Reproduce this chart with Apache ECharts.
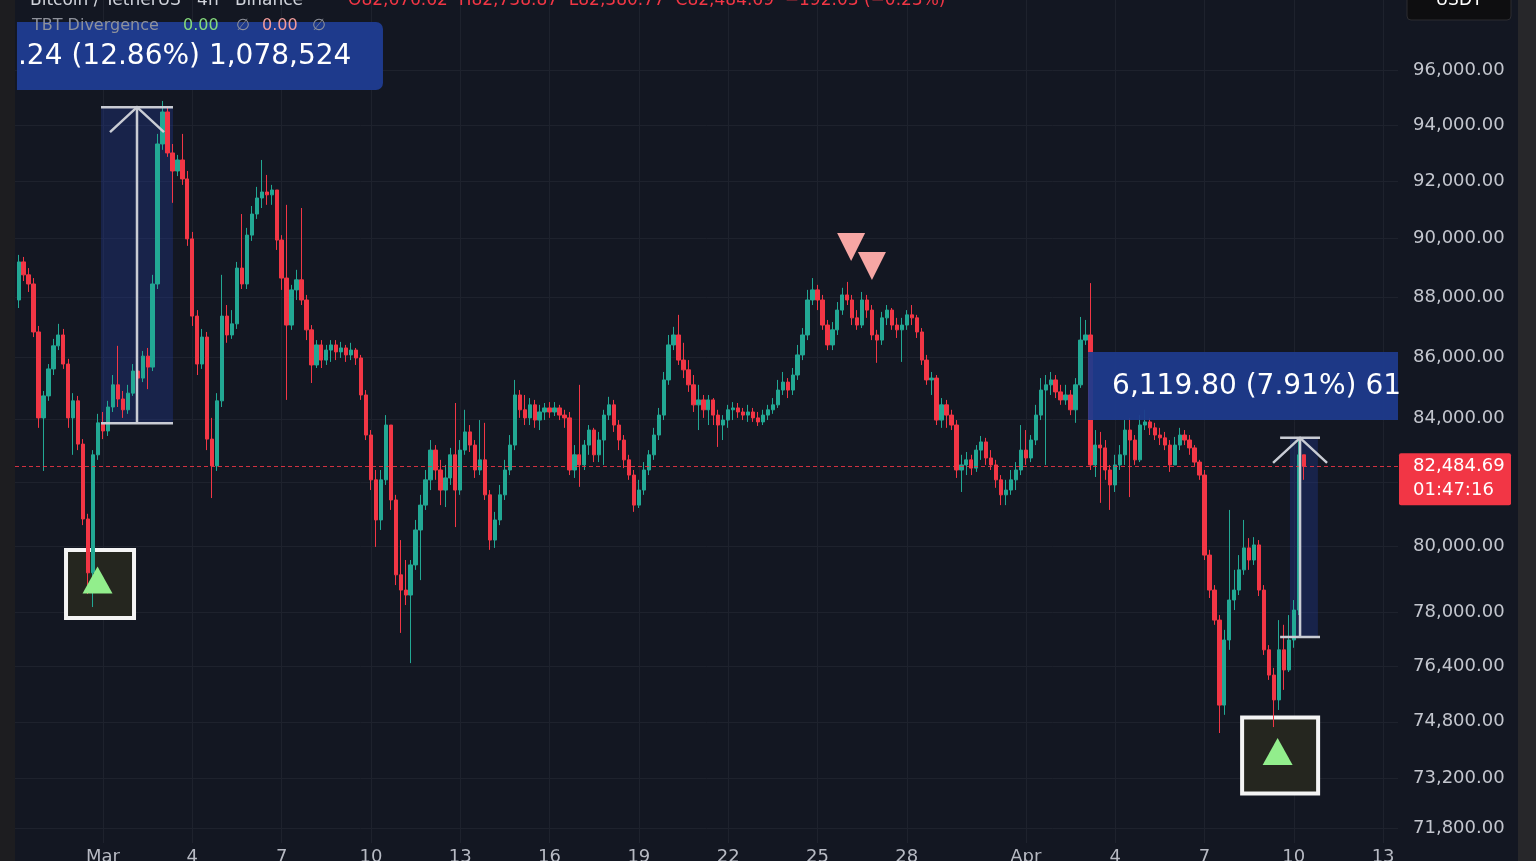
<!DOCTYPE html>
<html>
<head>
<meta charset="utf-8">
<script src="https://cdn.jsdelivr.net/npm/echarts@6/dist/echarts.min.js"></script>
<style>
html,body{margin:0;padding:0;background:#131722;}
#c{width:1536px;height:861px;}
</style>
</head>
<body>
<div id="c"></div>
<script>
// ---------- DATA ----------
const MAR1 = Date.UTC(2025, 2, 1);
const DAY = 86400000;
const FOUR_H = 4 * 3600000;
const candleStart = Date.UTC(2025, 1, 26, 4); // first 4h candle
const firstOpen = 87910;

const candleCloses = [
89200,88760,88450,86840,84030,84740,85620,86380,86740,85780,
84030,84580,83190,80840,79190,82850,83870,83610,84380,85100,
84640,84290,84830,85550,85320,86040,85680,88450,93320,94470,
93000,92360,92750,92080,89990,87370,85780,86670,83350,82500,
84580,87370,86740,87110,88990,88450,90120,90850,91410,91620,
91520,91690,89950,88650,87070,88250,88590,87910,86910,85750,
86410,85910,86240,86410,86180,86310,86080,86240,85980,84770,
83480,82060,80810,82060,83800,81430,79130,78670,78520,79430,
80500,81270,82060,83000,82370,81740,82120,82850,81740,83000,
83580,83160,82370,82690,81590,80190,80810,81590,82370,83160,
84770,84290,84030,84450,83960,84220,84350,84220,84350,84120,
84030,82370,82850,82530,83160,83640,82850,83320,84120,84450,
83800,83320,82690,82210,81270,81740,82370,82850,83480,84120,
85260,86410,86740,85910,85590,85100,84450,84610,84290,84610,
84120,83800,83960,84290,84350,84220,84120,84220,84030,83900,
84120,84290,84450,84930,85190,84930,85420,86080,86740,87910,
88250,87910,87070,86410,86910,87570,88080,87910,87310,87070,
87910,87570,86740,86570,87310,87570,87070,86910,87070,87410,
87310,86840,85910,85260,85320,83960,84450,84120,83800,82370,
82530,82690,82430,83000,83260,82750,82530,82060,81590,81740,
82060,82370,83000,82750,83320,84120,84930,85100,85260,84870,
84610,84770,84290,85100,86570,86740,82530,83160,83070,82370,
81900,82530,82850,83640,83320,82690,83800,83900,83710,83480,
83390,83160,82530,83160,83480,83320,83070,82620,82210,79730,
78670,77770,75280,77180,78370,78670,79280,79950,79580,80040,
78670,76890,76150,75430,76890,76300,77180,78070,82850,82484.69
];

const candleHighs = [
89440,89370,88990,88650,87040,84900,85780,86610,87110,86940,
85950,84830,84740,83350,81000,83000,84160,84220,84580,85420,
86380,84900,85100,85780,86380,86210,86310,88760,93680,94870,
94650,93320,92930,93680,92360,90230,87570,86940,86840,84030,
84830,88760,87740,87570,89200,90850,90370,91130,91800,92750,
92220,91870,91620,90120,91170,88420,88930,91060,88080,87070,
86570,86570,86410,86570,86570,86510,86410,86480,86310,86080,
84930,83640,82370,82370,84120,83800,81590,80190,79580,79580,
80810,81590,82370,83320,83160,82690,82530,83070,84510,83320,
84290,83800,83320,83960,83870,81740,81060,81900,82690,83480,
85260,84930,84770,84670,84610,84450,84510,84540,84540,84450,
84290,84220,83160,85100,83320,83800,83710,83580,84290,84710,
84610,83960,83480,82850,82370,82060,82620,83000,83710,84350,
85520,86740,87010,87410,86480,85910,85420,85100,84770,84770,
84670,84290,84120,84450,84540,84510,84350,84450,84350,84220,
84290,84450,84670,85260,85520,85320,85650,86410,86970,88250,
88650,88420,88080,87240,87170,87840,88320,88520,88080,87570,
88180,88080,87740,86910,87510,87740,87640,87310,87310,87570,
87740,87410,86970,86080,85520,85420,84670,84610,84290,83960,
82850,82940,82850,83160,83450,83390,83000,82690,82210,82060,
82370,82620,83800,83640,83480,84450,85320,85420,85520,85420,
85100,85100,84930,85320,87340,87240,88480,83640,83580,83320,
82530,82850,83160,83960,84030,83480,84120,84290,84030,83870,
83710,83580,83320,83420,83710,83640,83480,83160,82690,82370,
79890,78820,77920,77480,81120,79280,79730,80810,80250,80280,
80190,78820,77030,76360,77770,77630,77920,78370,83320,82850
];

const candleLows = [
87640,88550,88180,86670,83710,82340,84580,85420,86240,85620,
83710,82850,83000,80650,78550,78160,82690,83350,83450,84220,
84380,84030,84160,84740,85190,85190,84960,85550,88280,93110,
92860,91240,92180,91870,89750,87040,85420,85620,83000,81490,
82340,84380,86480,86610,86940,88280,88280,89920,90680,91060,
91170,91170,89610,88250,84610,86910,87910,87740,86570,85160,
85650,85650,85750,85850,85910,85980,85850,85910,85750,84610,
83320,81740,79980,80500,81900,81120,78820,77390,78220,76500,
79280,78970,81120,81740,82060,81270,81210,81900,80590,81590,
82850,82940,82120,82210,81430,79890,79950,80650,81430,82210,
83000,84030,83800,83800,83710,83640,83960,84030,84090,83960,
83710,82210,82120,81840,82370,82850,82620,82620,82530,83960,
83580,83000,82430,82060,81060,81180,81590,82210,82690,83320,
83960,85100,86240,85750,85320,84870,84220,83640,84030,83800,
83800,83100,83320,83710,83960,84030,83960,83900,83900,83770,
83800,83960,84160,84350,84770,84670,84770,85260,85910,86570,
87740,87570,86910,86240,86240,86740,87410,87740,87070,86910,
86970,87310,86570,85820,86410,87070,86910,86640,85850,86910,
87070,86640,85750,85100,84770,83800,83710,83710,83640,82120,
81680,82210,82210,82310,82690,82530,82370,81810,81270,81270,
81590,81740,82210,82530,82620,83160,83960,82530,84770,84670,
84450,84450,84120,83870,85000,86410,82370,82150,81340,82060,
81120,81680,82370,82530,81520,82530,82620,83640,83480,83320,
83160,83000,82310,82530,83000,83160,82850,82500,82060,79580,
78430,77630,74480,75000,76890,78070,78520,79130,79280,79430,
78490,76740,76010,74650,75140,75720,76240,76950,77920,82060
];

// axis ticks
const yTickValues = [71800, 73200, 74800, 76400, 78000, 80000, 82000, 84000, 86000, 88000, 90000, 92000, 94000, 96000];
const xTickDays = [0, 3, 6, 9, 12, 15, 18, 21, 24, 27, 31, 34, 37, 40, 43];
const xTickLabels = ['Mar', '4', '7', '10', '13', '16', '19', '22', '25', '28', 'Apr', '4', '7', '10', '13'];

// visible range (days from Mar 1, price)
const xRangeDays = [-2.956, 43.5];
const yRange = [71409, 98608];

// annotations (days from Mar 1, prices)
const measure1 = [-0.067, 2.351, -0.067, 2.351, 83860, 94644.24];  // lineFrom, lineTo, shadeFrom, shadeTo, low, high
const measure2 = [39.54, 40.88, 39.87, 40.81, 77270, 83389.8];
const label1 = [-2.89, 9.405, 97780, 95268, '.24 (12.86%) 1,078,524'];
const label2 = [33.09, 43.5, 86177, 83963, '6,119.80 (7.91%) 61'];
const buySignals = [[-0.10, 78853], [39.54, 73842]];
const sellSignals = [[25.13, 89711], [25.83, 89060]];
const lastPrice = 82484.69;
const countdown = '01:47:16';

// ---------- BUILD ----------
const candleData = candleCloses.map((c, i) => {
  const o = i === 0 ? firstOpen : candleCloses[i - 1];
  const h = Math.max(candleHighs[i], o, c);
  const l = Math.min(candleLows[i], o, c);
  return [candleStart + i * FOUR_H, o, c, l, h];
});
const xTickValues = xTickDays.map(d => MAR1 + d * DAY);
const FONT = '"DejaVu Sans", sans-serif';
const UP = '#22a894', DOWN = '#f23645';
const fmtPrice = v => Number(v).toLocaleString('en-US', {minimumFractionDigits: 2, maximumFractionDigits: 2});

const chart = echarts.init(document.getElementById('c'), null, {renderer: 'canvas'});
chart.setOption({
  backgroundColor: '#131722',
  animation: false,
  grid: {left: 15, right: 138, top: 0, bottom: 18, containLabel: false, outerBoundsMode: 'none'},
  xAxis: {
    type: 'value',
    min: MAR1 + xRangeDays[0] * DAY,
    max: MAR1 + xRangeDays[1] * DAY,
    axisLine: {show: false},
    axisTick: {show: false, customValues: xTickValues},
    axisLabel: {
      customValues: xTickValues,
      color: '#b7bac3', fontSize: 18, fontFamily: FONT, margin: 5,
      formatter: v => {
        let best = 0, bd = Infinity;
        xTickValues.forEach((t, k) => { const d = Math.abs(t - v); if (d < bd) { bd = d; best = k; } });
        return xTickLabels[best];
      }
    },
    splitLine: {show: true, lineStyle: {color: '#1e222d', width: 1}}
  },
  yAxis: {
    type: 'log', logBase: 10,
    min: yRange[0], max: yRange[1],
    position: 'right',
    axisLine: {show: false},
    axisTick: {show: false, customValues: yTickValues},
    axisLabel: {customValues: yTickValues, color: '#c3c6ce', fontSize: 18, fontFamily: FONT, margin: 15, formatter: v => fmtPrice(v)},
    splitLine: {show: true, lineStyle: {color: '#1e222d', width: 1}}
  },
  series: [{
    type: 'candlestick',
    data: candleData,
    barWidth: 3.8,
    itemStyle: {color: UP, color0: DOWN, borderColor: UP, borderColor0: DOWN, borderWidth: 1},
    markLine: {
      silent: true, symbol: 'none', animation: false,
      label: {show: false},
      lineStyle: {color: '#f23645', type: [4, 3], width: 1, opacity: 0.85},
      data: [{yAxis: lastPrice}]
    }
  }]
});

const P = (d, p) => chart.convertToPixel({gridIndex: 0}, [MAR1 + d * DAY, p]);
const G = [];
const LINE = '#c9ccd4';

function measure(m) {
  const a = P(m[0], m[5]), b = P(m[1], m[4]);
  const s1 = P(m[2], m[5]), s2 = P(m[3], m[4]);
  const cx = (a[0] + b[0]) / 2;
  G.push({type: 'rect', z: 1, shape: {x: s1[0], y: s1[1], width: s2[0] - s1[0], height: s2[1] - s1[1]}, style: {fill: 'rgba(36,62,170,0.30)'}});
  const st = {stroke: LINE, lineWidth: 2.5, fill: null};
  G.push({type: 'polyline', z: 5, shape: {points: [[a[0], a[1]], [b[0], a[1]]]}, style: st});
  G.push({type: 'polyline', z: 5, shape: {points: [[a[0], b[1]], [b[0], b[1]]]}, style: st});
  G.push({type: 'polyline', z: 5, shape: {points: [[cx, a[1]], [cx, b[1]]]}, style: st});
  G.push({type: 'polyline', z: 5, shape: {points: [[cx - 27, a[1] + 25], [cx, a[1]], [cx + 27, a[1] + 25]]}, style: st});
}
measure(measure1);
measure(measure2);

// buy signal boxes
buySignals.forEach((s, k) => {
  const c = P(s[0], s[1]);
  const size = k === 0 ? 68 : 76;
  G.push({type: 'rect', z: 1, shape: {x: c[0] - size / 2, y: c[1] - size / 2, width: size, height: size}, style: {fill: '#25261f', stroke: '#f4f4f4', lineWidth: 4}});
  const tx = c[0] - 2.5, ty = c[1] - 4, w = 30, h = 27;
  G.push({type: 'polygon', z: 6, shape: {points: [[tx, ty - h / 2], [tx + w / 2, ty + h / 2], [tx - w / 2, ty + h / 2]]}, style: {fill: '#92ee8c'}});
});
// sell signal triangles
sellSignals.forEach(s => {
  const c = P(s[0], s[1]);
  const w = 28, h = 28;
  G.push({type: 'polygon', z: 6, shape: {points: [[c[0] - w / 2, c[1] - h / 2], [c[0] + w / 2, c[1] - h / 2], [c[0], c[1] + h / 2]]}, style: {fill: '#f6a6a4'}});
});

// measurement labels
function mlabel(L, dx, radius, fill) {
  const a = P(L[0], L[2]), b = P(L[1], L[3]);
  G.push({type: 'rect', z: 7, shape: {x: a[0], y: a[1], width: b[0] - a[0], height: b[1] - a[1], r: radius}, style: {fill: fill}});
  G.push({type: 'text', z: 8, x: a[0] + dx, y: (a[1] + b[1]) / 2 + 1, style: {text: L[4], fill: '#ffffff', font: '28px ' + FONT, textAlign: 'left', textVerticalAlign: 'middle', align: 'left', verticalAlign: 'middle'}});
}
mlabel(label1, 1, [0, 7, 7, 0], '#1e3a8c');
mlabel(label2, 24, 0, 'rgba(30,58,140,0.94)');

// indicator legend
const tbt = [['TBT Divergence', 32, '#8e919b'], ['0.00', 183, '#84d97c'], ['\u2205', 236, '#8e919b'], ['0.00', 262, '#f29b9b'], ['\u2205', 312, '#8e919b']];
tbt.forEach(t => G.push({type: 'text', z: 9, x: t[1], y: 26, style: {text: t[0], fill: t[2], font: '16px ' + FONT, textAlign: 'left', textVerticalAlign: 'middle', align: 'left', verticalAlign: 'middle'}}));

// header (cut off at top)
G.push({type: 'text', z: 9, x: 30, y: 9, style: {text: 'Bitcoin / TetherUS \u00b7 4h \u00b7 Binance', fill: '#d1d4dc', font: '17px ' + FONT, textAlign: 'left', textVerticalAlign: 'bottom', align: 'left', verticalAlign: 'bottom'}});
G.push({type: 'text', z: 9, x: 348, y: 9, style: {text: 'O82,676.62  H82,738.87  L82,380.77  C82,484.69  \u2212192.03 (\u22120.23%)', fill: '#f23645', font: '17px ' + FONT, textAlign: 'left', textVerticalAlign: 'bottom', align: 'left', verticalAlign: 'bottom'}});

// currency box top right
G.push({type: 'rect', z: 9, shape: {x: 1407, y: -8, width: 104, height: 28, r: 4}, style: {fill: '#0e0e10', stroke: '#2c2c30', lineWidth: 1}});
G.push({type: 'text', z: 10, x: 1459, y: 9, style: {text: 'USDT', fill: '#ffffff', font: '17px ' + FONT, textAlign: 'center', textVerticalAlign: 'bottom', align: 'center', verticalAlign: 'bottom'}});

// last price label
const ly = P(0, lastPrice)[1];
G.push({type: 'rect', z: 9, shape: {x: 1399, y: ly - 13, width: 112, height: 52, r: 2}, style: {fill: '#f23645'}});
G.push({type: 'text', z: 10, x: 1413, y: ly, style: {text: fmtPrice(lastPrice), fill: '#ffffff', font: '18px ' + FONT, textAlign: 'left', textVerticalAlign: 'middle', align: 'left', verticalAlign: 'middle'}});
G.push({type: 'text', z: 10, x: 1413, y: ly + 24, style: {text: countdown, fill: '#ffffff', font: '18px ' + FONT, textAlign: 'left', textVerticalAlign: 'middle', align: 'left', verticalAlign: 'middle'}});

// window strips
G.push({type: 'rect', z: 20, shape: {x: 0, y: 0, width: 15, height: 861}, style: {fill: '#1d1d20'}});
G.push({type: 'rect', z: 20, shape: {x: 1518, y: 0, width: 18, height: 861}, style: {fill: '#27272a'}});

chart.setOption({graphic: {elements: G}});
</script>
</body>
</html>
